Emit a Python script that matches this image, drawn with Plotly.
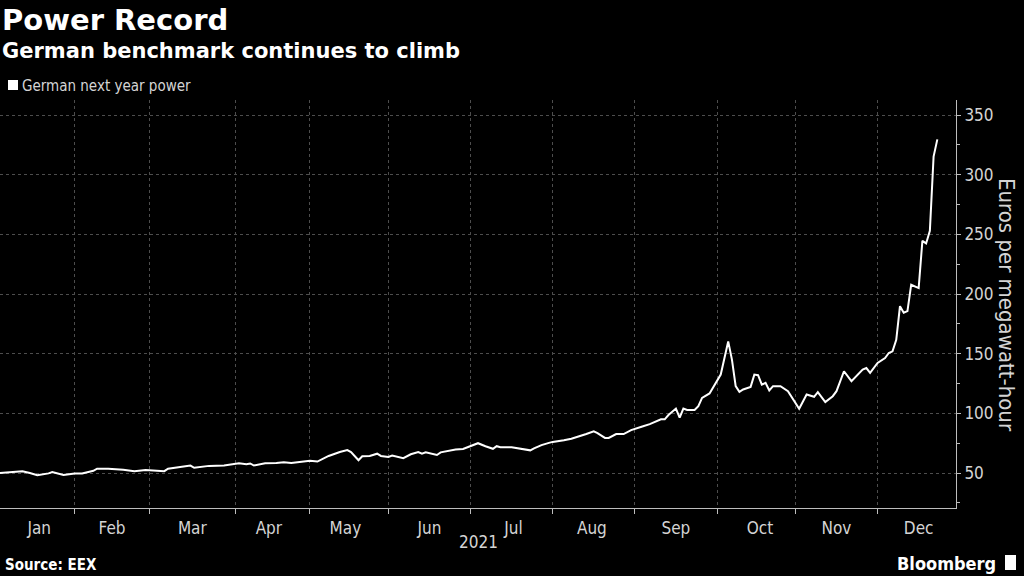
import plotly.graph_objects as go

# German next year power, EUR/MWh
dates = [
    "2021-01-04", "2021-01-11", "2021-01-12", "2021-01-14", "2021-01-18", "2021-01-21", "2021-01-22", "2021-01-27",
    "2021-02-01", "2021-02-03", "2021-02-08", "2021-02-09", "2021-02-12", "2021-02-18", "2021-02-23", "2021-02-26",
    "2021-03-03", "2021-03-05", "2021-03-08", "2021-03-12", "2021-03-16", "2021-03-17", "2021-03-23", "2021-03-29",
    "2021-04-06", "2021-04-08", "2021-04-09", "2021-04-12", "2021-04-15", "2021-04-20", "2021-04-22", "2021-04-26",
    "2021-05-03", "2021-05-05", "2021-05-07", "2021-05-10", "2021-05-13", "2021-05-17", "2021-05-18", "2021-05-20",
    "2021-05-21", "2021-05-25", "2021-05-27", "2021-05-28",
    "2021-06-01", "2021-06-02", "2021-06-07", "2021-06-09", "2021-06-11", "2021-06-14", "2021-06-15", "2021-06-16",
    "2021-06-18", "2021-06-21", "2021-06-25", "2021-06-29",
    "2021-07-02", "2021-07-05", "2021-07-07", "2021-07-09", "2021-07-12", "2021-07-13", "2021-07-16", "2021-07-19",
    "2021-07-21", "2021-07-23", "2021-07-26", "2021-07-28", "2021-07-30",
    "2021-08-02", "2021-08-05", "2021-08-09", "2021-08-13", "2021-08-16", "2021-08-17", "2021-08-18", "2021-08-20",
    "2021-08-23", "2021-08-25", "2021-08-27", "2021-08-31",
    "2021-09-03", "2021-09-07", "2021-09-10", "2021-09-13", "2021-09-14", "2021-09-15", "2021-09-16", "2021-09-17",
    "2021-09-20", "2021-09-21", "2021-09-23", "2021-09-24", "2021-09-27", "2021-09-29",
    "2021-10-01", "2021-10-04", "2021-10-06", "2021-10-07", "2021-10-08", "2021-10-11", "2021-10-12", "2021-10-13",
    "2021-10-14", "2021-10-15", "2021-10-18", "2021-10-19", "2021-10-20", "2021-10-21", "2021-10-22", "2021-10-26",
    "2021-10-28",
    "2021-11-02", "2021-11-04", "2021-11-08", "2021-11-09", "2021-11-11", "2021-11-15", "2021-11-16", "2021-11-18",
    "2021-11-22", "2021-11-25", "2021-11-26", "2021-11-29",
    "2021-12-01", "2021-12-03", "2021-12-06", "2021-12-07", "2021-12-08", "2021-12-09", "2021-12-10", "2021-12-13",
    "2021-12-14", "2021-12-16", "2021-12-17", "2021-12-20", "2021-12-21", "2021-12-22", "2021-12-23",
]
power = [
    50.0, 51.1, 51.4, 50.0, 48.1, 49.7, 50.8, 48.4,
    49.7, 49.7, 51.9, 53.6, 53.6, 52.7, 51.6, 52.5,
    52.2, 51.6, 53.6, 55.2, 56.3, 54.4, 56.0, 56.3,
    58.2, 57.4, 58.0, 56.3, 58.2, 58.5, 59.0, 58.5,
    60.2, 59.6, 62.4, 64.3, 67.6, 69.2, 67.6, 60.7,
    64.0, 64.3, 66.2, 64.3,
    63.5, 64.6, 62.4, 65.7, 67.6, 66.2, 67.3, 66.5,
    65.1, 67.3, 69.8, 70.1,
    73.9, 75.0, 72.5, 70.3, 72.5, 71.7, 71.7, 71.2,
    70.6, 69.0, 70.6, 73.4, 75.3,
    76.1, 77.5, 78.8, 82.7, 84.1, 84.9, 83.5, 79.4,
    79.4, 82.7, 82.7, 86.0,
    89.0, 91.0, 95.0, 95.0, 98.6, 101.0, 104.0, 96.4,
    104.0, 102.8, 102.8, 106.0, 113.0, 116.7,
    128.0, 132.5, 160.3, 145.0, 122.8, 118.0, 120.0, 120.8,
    122.2, 132.5, 132.0, 124.0, 125.6, 119.2, 122.8, 122.8,
    118.6,
    103.9, 115.8, 113.9, 117.8, 109.4, 114.4, 118.6, 135.3,
    127.0, 136.7, 138.0, 134.0,
    142.3, 146.4, 150.6, 152.0, 161.6, 189.8, 184.3, 185.7,
    207.8, 205.0, 244.6, 242.4, 252.9, 315.2, 329.6,
]
holidays = ["2021-01-01", "2021-04-02", "2021-04-05", "2021-12-24", "2021-12-31"]

W, H = 1024, 576
L, R, T, B = 0, 68, 100, 68


def px(x, y):
    # pixel position -> paper coords
    return x / (W - L - R), (H - B - y) / (H - T - B)


cond = "DejaVu Sans Condensed, Liberation Sans Narrow, sans-serif"
tick_font = dict(family=cond, size=17, color="#d4d4d4")

fig = go.Figure()
fig.add_trace(go.Scatter(x=dates, y=power, mode="lines",
                         line=dict(color="white", width=2), showlegend=False))

fig.update_xaxes(
    type="date", range=["2021-01-01", "2021-12-31"],
    rangebreaks=[dict(bounds=["sat", "mon"]), dict(values=holidays)],
    dtick="M1", tick0="2021-01-01", tickformat="%b", ticklabelmode="period",
    showgrid=True, gridcolor="#4d4d4d", griddash="dot", gridwidth=1,
    showline=True, linecolor="#bdbdbd", linewidth=1,
    ticks="outside", ticklen=5, tickcolor="#bdbdbd",
    tickfont=tick_font, zeroline=False,
)
fig.update_yaxes(
    side="right", range=[20.7, 362.6], dtick=50, tick0=0,
    showgrid=True, gridcolor="#4d4d4d", griddash="dot", gridwidth=1,
    showline=True, linecolor="#bdbdbd", linewidth=1,
    ticks="outside", ticklen=4, tickcolor="#bdbdbd",
    minor=dict(dtick=25, tick0=25, ticks="outside", ticklen=3, tickcolor="#bdbdbd", showgrid=False),
    tickfont=tick_font, zeroline=False,
)

ann = []


def text(x, y, s, size, color="white", bold=False, xanchor="left", angle=0, family="DejaVu Sans, sans-serif"):
    xp, yp = px(x, y)
    if bold:
        s = "<b>" + s + "</b>"
    ann.append(dict(x=xp, y=yp, xref="paper", yref="paper", text=s, showarrow=False,
                    xanchor=xanchor, yanchor="middle", textangle=angle,
                    font=dict(family=family, size=size, color=color)))


text(0, 20, "Power Record", 29, bold=True)
text(0, 51, "German benchmark continues to climb", 21, bold=True)
text(20, 86, "German next year power", 15, color="#d4d4d4", family="DejaVu Sans Condensed, sans-serif")
text(478, 542, "2021", 17, color="#d4d4d4", xanchor="center", family=cond)
text(1007, 305, "Euros per megawatt-hour", 22, color="#d4d4d4", xanchor="center", angle=90,
     family="DejaVu Sans Condensed, sans-serif")
text(3, 565, "Source: EEX", 15, bold=True, family="DejaVu Sans Condensed, sans-serif")
text(998, 563, "Bloomberg", 18, bold=True, xanchor="right", family="DejaVu Sans Condensed, sans-serif")

# legend swatch and logo box
for (a, b, c, d) in [(8, 80, 18, 90), (1005, 555, 1016, 570)]:
    x0, y0 = px(a, b)
    x1, y1 = px(c, d)
    fig.add_shape(type="rect", xref="paper", yref="paper", x0=x0, y0=y0, x1=x1, y1=y1,
                  fillcolor="white", line=dict(width=0))

fig.update_layout(
    width=W, height=H, margin=dict(l=L, r=R, t=T, b=B),
    paper_bgcolor="black", plot_bgcolor="black",
    annotations=ann,
)

fig.write_html("out.html", config={"displayModeBar": False},
               post_script="document.body.style.margin='0';document.body.style.background='black';")
